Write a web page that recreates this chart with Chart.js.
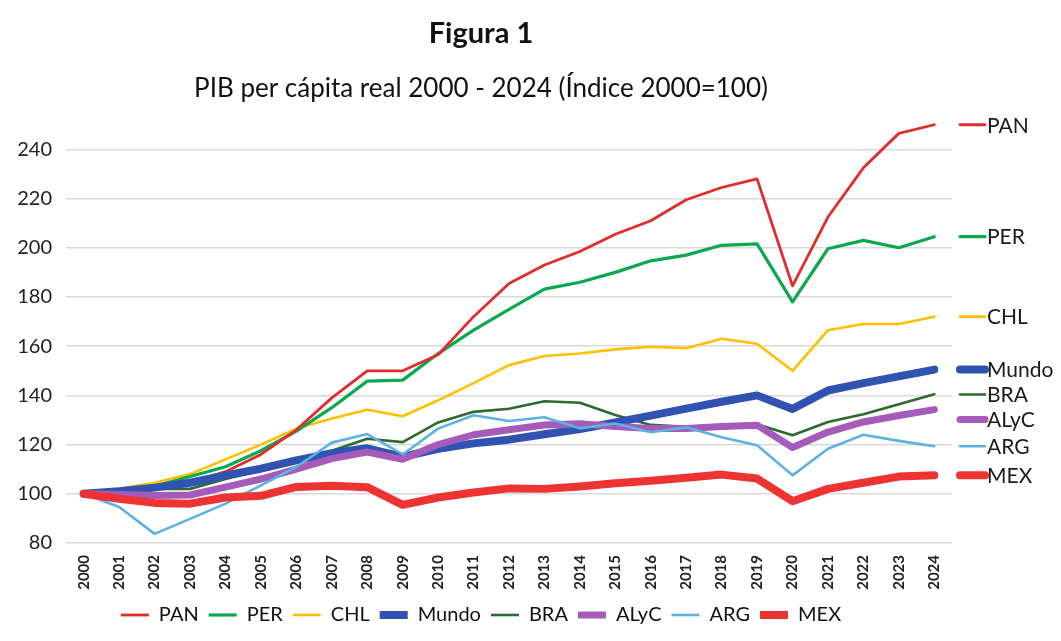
<!DOCTYPE html>
<html>
<head>
<meta charset="utf-8">
<script src="https://cdn.jsdelivr.net/npm/chart.js@4.4.1/dist/chart.umd.min.js"></script>
<style>
  html, body { margin: 0; padding: 0; background: #ffffff; }
  #wrap { width: 1061px; height: 641px; }
</style>
</head>
<body>
<div id="wrap"><canvas id="c" width="1061" height="641"></canvas></div>
<script>
const years = ['2000','2001','2002','2003','2004','2005','2006','2007','2008','2009','2010','2011','2012','2013','2014','2015','2016','2017','2018','2019','2020','2021','2022','2023','2024'];
const seriesNames = ['PAN','PER','CHL','Mundo','BRA','ALyC','ARG','MEX'];
const PAN   = [100, 101, 102, 104.5, 109, 116, 126, 139, 150, 150, 156.5, 172, 185.5, 193, 198.5, 205.5, 211, 219.5, 224.5, 228, 184.5, 212.5, 232.5, 246.5, 250];
const PER   = [100, 101, 103, 107, 111, 117.5, 125.5, 135, 145.8, 146.2, 157, 166.5, 175, 183.2, 186, 190, 194.7, 197, 201, 201.6, 178, 199.6, 203, 200, 204.5];
const CHL   = [100, 102, 104.5, 108, 114, 120, 126.5, 130.6, 134.2, 131.5, 138, 145, 152.3, 156, 157, 158.7, 159.8, 159.2, 163, 161, 150, 166.5, 169, 169, 172];
const Mundo = [100, 101, 102.5, 104.5, 107.5, 110.2, 113.6, 116.5, 118.5, 115, 118.3, 120.5, 122, 124.2, 126.3, 129, 131.8, 134.6, 137.4, 140, 134.5, 142, 145, 147.7, 150.5];
const BRA   = [100, 101, 102, 102, 106, 109.5, 113, 117.5, 122.4, 121, 129, 133.3, 134.6, 137.6, 137, 132, 128, 127.2, 127.9, 128.3, 123.8, 129.2, 132.3, 136.4, 140.5];
const ALyC  = [100, 99.7, 99.3, 99.5, 102.7, 106, 110, 114.3, 117, 114, 120, 124, 126, 128, 128.5, 127.4, 126.5, 126.5, 127.4, 127.9, 118.8, 125.1, 129.2, 131.8, 134.2];
const ARG   = [100, 94.6, 83.7, 89.8, 96, 103.4, 110.9, 120.8, 124.3, 116, 126.5, 131.9, 129.6, 131.1, 126.6, 128.6, 125, 127, 123, 119.7, 107.5, 118.3, 124, 121.5, 119.3];
const MEX   = [100, 98, 96.3, 96, 98.5, 99.2, 102.8, 103.3, 102.7, 95.5, 98.5, 100.5, 102.2, 102, 103, 104.3, 105.3, 106.5, 107.8, 106.2, 97, 102, 104.5, 107, 107.5];
const yTicks = [80, 100, 120, 140, 160, 180, 200, 220, 240];

const values = [PAN, PER, CHL, Mundo, BRA, ALyC, ARG, MEX];
const colors = ['#e42b2b', '#0aa84f', '#ffc000', '#3052b0', '#2d6a2d', '#a55bba', '#5db2e3', '#ee3333'];
const widths = [2.8, 3.2, 2.6, 8, 2.6, 7, 2.6, 8];
const drawOrder = [5, 6, 7, 3, 4, 2, 1, 0];

const FONT = 'Lato, "Open Sans", sans-serif';

const endLabels = {
  id: 'endLabels',
  afterDatasetsDraw(chart) {
    const ctx = chart.ctx;
    const ys = chart.scales.y;
    const area = chart.chartArea;
    const items = chart.data.datasets.map((ds, i) => ({
      ds, y: ys.getPixelForValue(ds.data[ds.data.length - 1])
    })).sort((a, b) => a.y - b.y);
    const gap = 25;
    for (let i = 1; i < items.length; i++) {
      if (items[i].y - items[i - 1].y < gap) items[i].y = items[i - 1].y + gap;
    }
    ctx.save();
    items.forEach(it => {
      const x0 = area.right + 8, x1 = area.right + 33;
      ctx.beginPath();
      ctx.strokeStyle = it.ds.borderColor;
      ctx.lineWidth = it.ds.borderWidth;
      ctx.lineCap = 'round';
      ctx.moveTo(x0, it.y);
      ctx.lineTo(x1, it.y);
      ctx.stroke();
      ctx.fillStyle = '#1a1a1a';
      ctx.font = '21px ' + FONT;
      ctx.textBaseline = 'middle';
      ctx.textAlign = 'left';
      ctx.fillText(it.ds.label, x1 + 2, it.y + 1);
    });
    ctx.restore();
  }
};

new Chart(document.getElementById('c'), {
  type: 'line',
  data: {
    labels: years,
    datasets: seriesNames.map((name, i) => ({
      label: name,
      data: values[i],
      borderColor: colors[i],
      backgroundColor: colors[i],
      borderWidth: widths[i],
      pointRadius: 0,
      pointHoverRadius: 0,
      pointStyle: 'line',
      borderCapStyle: 'round',
      borderJoinStyle: 'round',
      tension: 0,
      fill: false,
      order: drawOrder[i],
      clip: false
    }))
  },
  options: {
    responsive: false,
    animation: false,
    devicePixelRatio: 1,
    layout: { padding: { left: 10, right: 109, top: 0, bottom: 6 } },
    plugins: {
      title: {
        display: true,
        text: 'Figura 1',
        color: '#111',
        font: { family: FONT, size: 29, weight: 'bold' },
        padding: { top: 16, bottom: 20 }
      },
      subtitle: {
        display: true,
        text: 'PIB per cápita real 2000 - 2024 (Índice 2000=100)',
        color: '#111',
        font: { family: FONT, size: 26 },
        padding: { top: 2, bottom: 6 }
      },
      legend: {
        display: true,
        position: 'bottom',
        labels: {
          usePointStyle: true,
          pointStyleWidth: 28,
          boxHeight: 20,
          color: '#111',
          font: { family: FONT, size: 20 },
          padding: 10,
          sort: (a, b) => a.datasetIndex - b.datasetIndex
        }
      },
      tooltip: { enabled: false }
    },
    scales: {
      x: {
        offset: true,
        grid: { display: false },
        border: { display: false },
        ticks: {
          color: '#222',
          font: { family: FONT, size: 15, weight: 'bold' },
          minRotation: 90,
          maxRotation: 90,
          autoSkip: false,
          padding: 4
        },
        afterFit(axis) { axis.height = 52; }
      },
      y: {
        min: 80,
        max: 256,
        afterBuildTicks(axis) { axis.ticks = yTicks.map(v => ({ value: v })); },
        grid: { color: '#d9d9d9', lineWidth: 1.5, drawTicks: false },
        border: { display: false },
        ticks: {
          color: '#222',
          font: { family: FONT, size: 20 },
          padding: 14
        },
        afterFit(axis) { axis.width = 56; }
      }
    }
  },
  plugins: [endLabels]
});
</script>
</body>
</html>
